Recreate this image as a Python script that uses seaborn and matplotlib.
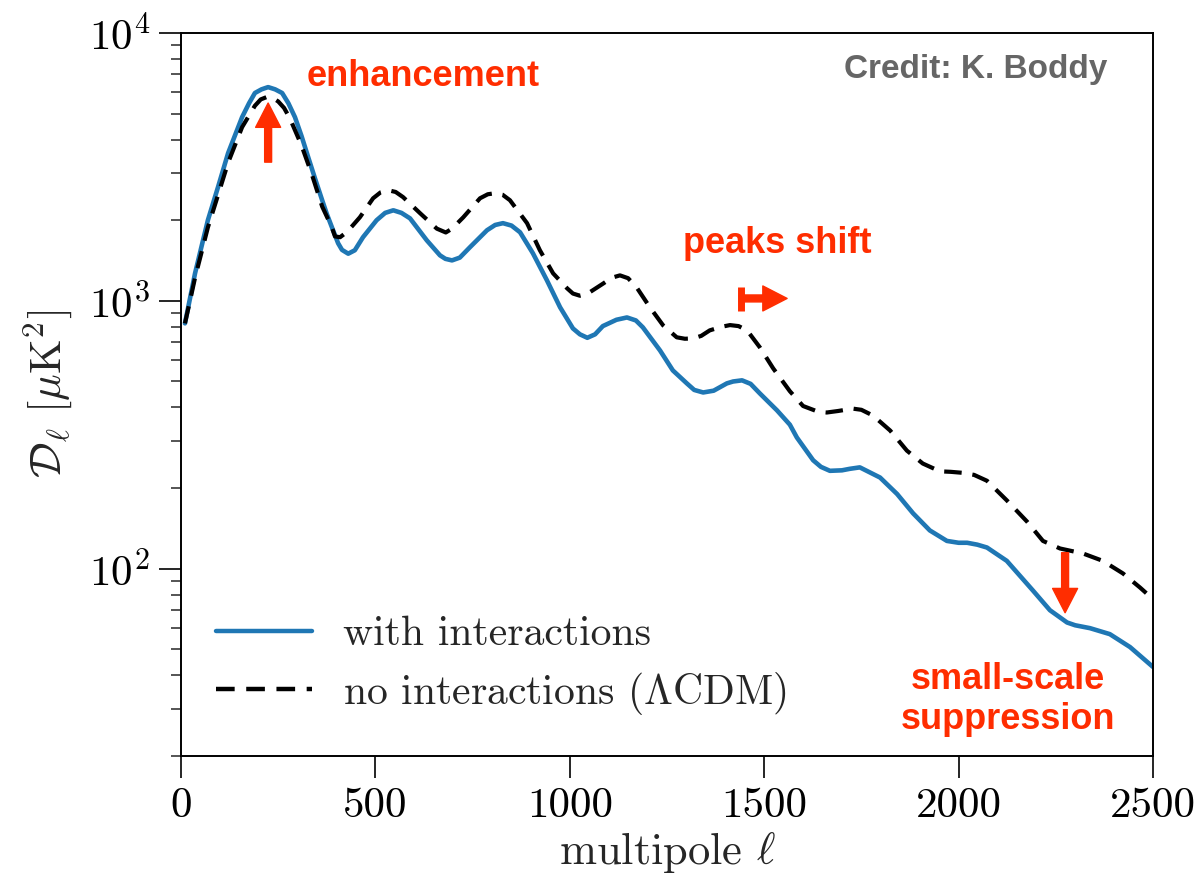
import numpy as np
import pandas as pd
import matplotlib
matplotlib.use("Agg")
import matplotlib.pyplot as plt
import seaborn as sns

# CMB temperature power spectrum, with and without dark-matter interactions
ell_int = [10, 23, 36, 69, 95, 121, 157, 175, 190, 207, 224, 242, 260, 276, 293, 310,
           327, 345, 363, 375, 388, 404, 414, 430, 447, 468, 503, 525, 546, 567, 589,
           632, 666, 680, 697, 717, 743, 787, 808, 828, 850, 872, 905, 941, 975, 1008,
           1026, 1045, 1065, 1085, 1120, 1147, 1170, 1188, 1232, 1265, 1301, 1320,
           1343, 1370, 1404, 1420, 1443, 1465, 1489, 1533, 1566, 1584, 1626, 1646,
           1669, 1700, 1720, 1746, 1798, 1842, 1883, 1926, 1970, 2000, 2022, 2048,
           2073, 2124, 2191, 2235, 2279, 2300, 2338, 2389, 2441, 2492, 2500]
dl_int = [824, 1021, 1267, 2000, 2656, 3560, 4850, 5470, 5970, 6160, 6280, 6160, 5970,
          5470, 4850, 4120, 3440, 2850, 2375, 2110, 1883, 1641, 1550, 1500, 1545, 1728,
          2000, 2130, 2178, 2130, 2032, 1683, 1479, 1435, 1416, 1450, 1585, 1835, 1920,
          1950, 1910, 1803, 1506, 1194, 946, 789, 750, 728, 750, 805, 850, 867, 845,
          796, 653, 550, 492, 465, 455, 462, 492, 500, 505, 490, 451, 390, 345, 309,
          254, 240, 232, 233, 236, 239, 219, 190, 161, 139, 127, 125, 125, 123, 120,
          107, 83, 70, 63, 61.5, 60, 57, 51, 44, 43]

ell_lcdm = [10, 23, 36, 69, 95, 121, 157, 190, 205, 221, 236, 250, 265, 280, 310, 337,
            363, 388, 396, 409, 425, 440, 460, 494, 513, 533, 552, 571, 615, 658, 681,
            697, 726, 769, 789, 808, 827, 846, 890, 923, 957, 993, 1008, 1026, 1044,
            1086, 1108, 1129, 1150, 1172, 1206, 1240, 1275, 1296, 1317, 1338, 1360,
            1390, 1412, 1434, 1456, 1489, 1523, 1566, 1600, 1640, 1661, 1690, 1728,
            1750, 1780, 1824, 1867, 1908, 1952, 1980, 2011, 2040, 2073, 2124, 2176,
            2217, 2261, 2320, 2371, 2423, 2467, 2500]
dl_lcdm = [824, 1000, 1220, 1880, 2480, 3280, 4450, 5350, 5650, 5770, 5720, 5550, 5250,
           4800, 3800, 2950, 2250, 1880, 1740, 1728, 1800, 1900, 2051, 2415, 2540, 2588,
           2550, 2440, 2123, 1860, 1800, 1860, 2051, 2415, 2500, 2523, 2490, 2375, 1950,
           1545, 1267, 1114, 1065, 1045, 1060, 1161, 1220, 1245, 1215, 1122, 946, 810,
           731, 722, 724, 740, 776, 800, 812, 805, 776, 670, 560, 460, 405, 385, 383,
           388, 396, 392, 373, 328, 276, 247, 231, 230, 228, 224, 213, 180, 150, 127,
           119, 114, 107, 96, 85, 77]

label_int = "with interactions"
label_lcdm = r"no interactions ($\Lambda$CDM)"
x_ticks = [0, 500, 1000, 1500, 2000, 2500]

df_int = pd.DataFrame({"ell": ell_int, "Dl": dl_int})
df_lcdm = pd.DataFrame({"ell": ell_lcdm, "Dl": dl_lcdm})

sns.set_theme(style="ticks")
plt.rcParams.update({
    "font.family": "serif",
    "font.serif": ["cmr10"],
    "mathtext.fontset": "cm",
    "axes.formatter.use_mathtext": True,
    "axes.unicode_minus": False,
})

RED = "#ff2d00"
fig = plt.figure(figsize=(12.03, 8.82), dpi=100)
ax = fig.add_axes([0.1505, 0.1429, 0.8079, 0.8197])

sns.lineplot(data=df_int, x="ell", y="Dl", ax=ax, color="#1f77b4", lw=3.3,
             label=label_int, sort=False)
sns.lineplot(data=df_lcdm, x="ell", y="Dl", ax=ax, color="black", lw=3.0,
             label=label_lcdm, sort=False)
ax.lines[0].set_solid_joinstyle("round")
ax.lines[1].set_dashes((4.2, 2.6))
ax.lines[1].set_dash_joinstyle("round")

ax.set_yscale("log")
ax.set_xlim(0, 2500)
ax.set_ylim(20, 1e4)
ax.set_xticks(x_ticks)
ax.set_xticklabels([str(t) for t in x_ticks])
ax.minorticks_off()
ax.yaxis.set_minor_locator(matplotlib.ticker.LogLocator(base=10, subs=np.arange(2, 10)))
ax.yaxis.set_minor_formatter(matplotlib.ticker.NullFormatter())

for s in ax.spines.values():
    s.set_linewidth(1.4)
    s.set_color("black")
ax.tick_params(axis="both", which="major", length=15.5, width=1.2, labelsize=31,
               direction="out", pad=7, colors="black")
ax.tick_params(axis="y", which="minor", length=7, width=1.1, direction="out")

ax.set_xlabel(r"multipole $\ell$", fontsize=32, labelpad=4)
ax.set_ylabel(r"$\mathcal{D}_\ell\ [\mu\mathrm{K}^2]$", fontsize=32, labelpad=10)

leg = ax.legend(loc="lower left", frameon=False, fontsize=30, handlelength=2.3,
                handletextpad=0.75, labelspacing=0.40, borderaxespad=0.5,
                bbox_to_anchor=(-0.0026, 0.002))
for h in leg.get_lines():
    h.set_linewidth(3.2)

# Annotations
sans = dict(family="Liberation Sans", weight="bold")
ax.text(622, 6905, "enhancement", color=RED, fontsize=26, ha="center", va="center", **sans)
ax.text(1533, 1641, "peaks shift", color=RED, fontsize=26, ha="center", va="center", **sans)
ax.text(2127, 32.5, "small-scale\nsuppression", color=RED, fontsize=26, ha="center",
        va="center", linespacing=1.2, **sans)
ax.text(0.953, 0.949, "Credit: K. Boddy", color="#666666", fontsize=24, ha="right",
        va="center", transform=ax.transAxes, **sans)

arrow = dict(color=RED, width=5, headwidth=18, headlength=17.5, shrink=0)
ax.annotate("", xy=(224, 5477), xytext=(224, 3295), arrowprops=arrow)
ax.annotate("", xy=(1559, 1021), xytext=(1436, 1021), arrowprops=arrow)
ax.vlines(1440, 914, 1123, color=RED, lw=5)
ax.annotate("", xy=(2274, 68.5), xytext=(2274, 114.8), arrowprops=arrow)

fig.savefig("out.png", dpi=100)
